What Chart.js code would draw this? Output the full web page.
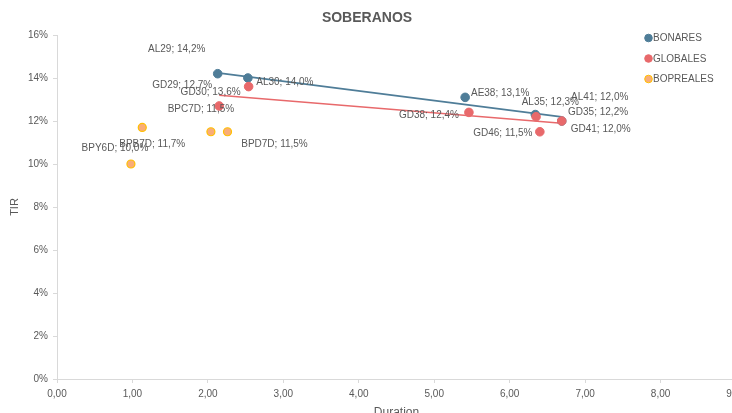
<!DOCTYPE html>
<html>
<head>
<meta charset="utf-8">
<script src="https://cdn.jsdelivr.net/npm/chart.js@4/dist/chart.umd.min.js"></script>
<style>
html,body{margin:0;padding:0;background:#fff;overflow:hidden;width:732px;height:413px;}
#wrap{position:absolute;left:0;top:0;width:760px;height:420px;}
</style>
</head>
<body>
<div id="wrap"><canvas id="c" width="760" height="420"></canvas></div>
<script>
// ---- data ----
const bonaresNames    = ['AL29','AL30','AE38','AL35','AL41'];
const bonaresDuration = [2.13, 2.53, 5.41, 6.34, 6.69];
const bonaresTIR      = [14.2, 14.0, 13.1, 12.3, 12.0];

const globalesNames    = ['GD29','GD30','GD38','GD35','GD46','GD41'];
const globalesDuration = [2.15, 2.54, 5.46, 6.35, 6.40, 6.69];
const globalesTIR      = [12.7, 13.6, 12.4, 12.2, 11.5, 12.0];

const boprealesNames    = ['BPB7D','BPC7D','BPD7D','BPY6D'];
const boprealesDuration = [1.13, 2.04, 2.26, 0.98];
const boprealesTIR      = [11.7, 11.5, 11.5, 10.0];

const xTicks = [0,1,2,3,4,5,6,7,8,9];
const yTicks = [0,2,4,6,8,10,12,14,16];

// ---- label placement (pixel offsets of label centre from its point) ----
const labelOffsets = {
  AL29:[-41,-24], AL30:[37,4], AE38:[35,-4], AL35:[15,-12], AL41:[38,-24],
  GD29:[-37,-21], GD30:[-38,6], GD38:[-40,3], GD35:[62,-4], GD46:[-37,1], GD41:[39,8],
  BPB7D:[10,17], BPC7D:[-10,-23], BPD7D:[47,12], BPY6D:[-16,-16]
};

const BLUE = '#4F7D98', RED = '#E8696B', ORANGE_FILL = '#F9AD78', ORANGE_BORDER = '#FFC000';
const TXT = '#595959';
const FONT = "'Liberation Sans', Arial, sans-serif";

function pts(xs, ys){ return xs.map((x,i)=>({x:x, y:ys[i]})); }
function trend(xs, ys){
  const n = xs.length;
  const mx = xs.reduce((a,b)=>a+b,0)/n, my = ys.reduce((a,b)=>a+b,0)/n;
  let sxy=0, sxx=0;
  for(let i=0;i<n;i++){ sxy+=(xs[i]-mx)*(ys[i]-my); sxx+=(xs[i]-mx)*(xs[i]-mx); }
  const b = sxy/sxx, a = my - b*mx;
  const x0 = Math.min(...xs), x1 = Math.max(...xs);
  return [{x:x0,y:a+b*x0},{x:x1,y:a+b*x1}];
}
function fmt(v){ return v.toFixed(1).replace('.',',') + '%'; }

const series = [
  {label:'BONARES', fill:BLUE, border:BLUE},
  {label:'GLOBALES', fill:RED, border:RED},
  {label:'BOPREALES', fill:ORANGE_FILL, border:ORANGE_BORDER}
];

const datasets = [
  {label:'BONARES', data:pts(bonaresDuration,bonaresTIR), backgroundColor:BLUE, borderColor:BLUE, pointRadius:4.3, borderWidth:1, order:1, names:bonaresNames},
  {label:'GLOBALES', data:pts(globalesDuration,globalesTIR), backgroundColor:RED, borderColor:RED, pointRadius:4.3, borderWidth:1, order:0, names:globalesNames},
  {label:'BOPREALES', data:pts(boprealesDuration,boprealesTIR), backgroundColor:ORANGE_FILL, borderColor:ORANGE_BORDER, pointRadius:4, borderWidth:1.2, order:2, names:boprealesNames},
  {label:'trendB', type:'line', data:trend(bonaresDuration,bonaresTIR), borderColor:BLUE, borderWidth:1.6, pointRadius:0, showLine:true, fill:false, order:3, isTrend:true},
  {label:'trendG', type:'line', data:trend(globalesDuration,globalesTIR), borderColor:RED, borderWidth:1.6, pointRadius:0, showLine:true, fill:false, order:4, isTrend:true}
];

const decor = {
  id:'decor',
  afterDatasetsDraw(chart){
    const ctx = chart.ctx;
    ctx.save();
    ctx.font = '10px ' + FONT;
    ctx.fillStyle = TXT;
    ctx.textAlign = 'center';
    ctx.textBaseline = 'middle';
    chart.data.datasets.forEach((ds, di)=>{
      if(ds.isTrend) return;
      const meta = chart.getDatasetMeta(di);
      meta.data.forEach((el, i)=>{
        const name = ds.names[i];
        const off = labelOffsets[name] || [0,-12];
        ctx.fillText(name + '; ' + fmt(ds.data[i].y), el.x + off[0], el.y + off[1]);
      });
    });
    ctx.font = 'bold 14px ' + FONT;
    ctx.fillText('SOBERANOS', 367, 18);
    ctx.font = '10px ' + FONT;
    ctx.textAlign = 'left';
    series.forEach((s, i)=>{
      const y = 38 + i*20.5;
      ctx.beginPath();
      ctx.arc(648.5, y, 3.8, 0, Math.PI*2);
      ctx.fillStyle = s.fill; ctx.fill();
      ctx.lineWidth = 1; ctx.strokeStyle = s.border; ctx.stroke();
      ctx.fillStyle = TXT;
      ctx.fillText(s.label, 653, y + 0.5);
    });
    ctx.restore();
  }
};

new Chart(document.getElementById('c'), {
  type:'scatter',
  data:{datasets:datasets},
  options:{
    responsive:false,
    animation:false,
    layout:{padding:{top:35, left:0, right:24, bottom:0}},
    plugins:{legend:{display:false}, tooltip:{enabled:false}, title:{display:false}},
    scales:{
      x:{
        type:'linear', min:0, max:9,
        afterBuildTicks(scale){ scale.ticks = xTicks.map(v=>({value:v})); },
        afterFit(scale){ scale.height = 41; },
        grid:{display:true, drawOnChartArea:false, drawTicks:true, tickLength:4, color:'#D9D9D9'},
        border:{display:true, color:'#D9D9D9', width:1},
        ticks:{color:TXT, font:{family:FONT, size:10}, padding:5, maxRotation:0, autoSkip:false,
               callback:(v)=>Number(v).toFixed(2).replace('.',',')},
        title:{display:true, text:'Duration', color:TXT, font:{family:FONT, size:12}, padding:{top:2,bottom:0}}
      },
      y:{
        type:'linear', min:0, max:16,
        afterBuildTicks(scale){ scale.ticks = yTicks.map(v=>({value:v})); },
        afterFit(scale){ scale.width = 57; },
        grid:{display:true, drawOnChartArea:false, drawTicks:true, tickLength:4, color:'#D9D9D9'},
        border:{display:true, color:'#D9D9D9', width:1},
        ticks:{color:TXT, font:{family:FONT, size:10}, padding:5,
               callback:(v)=>v + '%'},
        title:{display:true, text:'TIR', color:TXT, font:{family:FONT, size:11}, padding:{top:8,bottom:0}}
      }
    }
  },
  plugins:[decor]
});
</script>
</body>
</html>
